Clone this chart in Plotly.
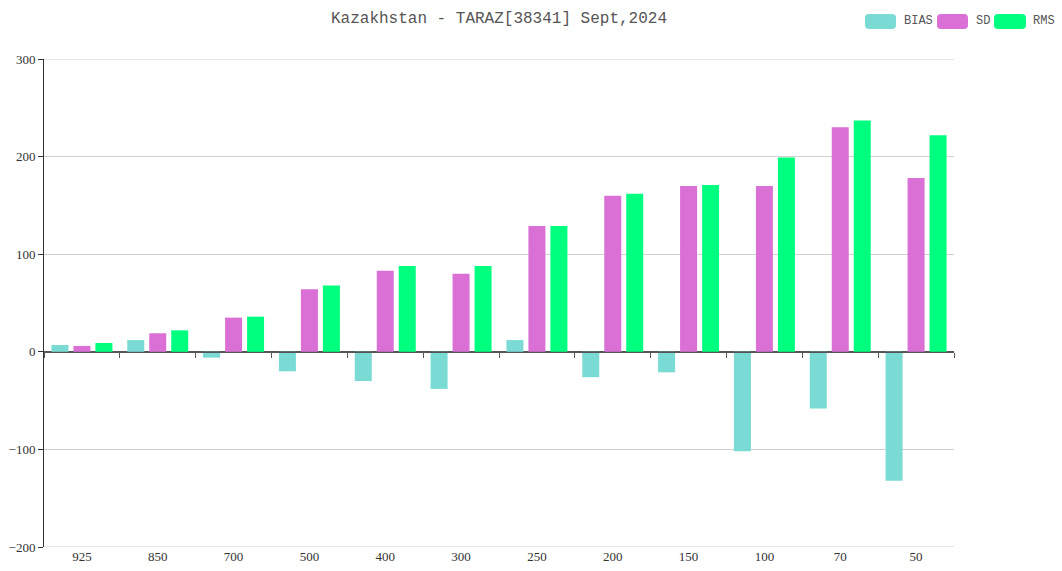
import plotly.graph_objects as go

levels = ["925", "850", "700", "500", "400", "300", "250", "200", "150", "100", "70", "50"]
bias = [7, 12, -6, -20, -30, -38, 12, -26, -21, -102, -58, -132]
sd = [6, 19, 35, 64, 83, 80, 129, 160, 170, 170, 230, 178]
rms = [9, 22, 36, 68, 88, 88, 129, 162, 171, 199, 237, 222]

series_names = ["BIAS", "SD", "RMS"]
series_colors = ["#79dbd4", "#da70d6", "#00ff7f"]
y_ticks = [-200, -100, 0, 100, 200, 300]
y_range = [-200, 300]

W, H = 1062, 571
L, R, T, B = 44, 954, 59, 547

def px(x):
    return (x - L) / (R - L)

def py(y):
    return (B - y) / (B - T)

fig = go.Figure()
for name, vals, col in zip(series_names, [bias, sd, rms], series_colors):
    fig.add_trace(go.Bar(x=levels, y=vals, name=name, marker=dict(color=col, line=dict(width=0)),
                         showlegend=False))

# invisible helper trace for the zero-line axis with boundary ticks
fig.add_trace(go.Scatter(x=levels, y=[0] * len(levels), xaxis="x2", mode="markers",
                         marker=dict(opacity=0, size=1), hoverinfo="skip", showlegend=False))

def rrect(x0, y0, x1, y1, r):
    pts = [
        f"M {px(x0 + r)},{py(y0)}",
        f"L {px(x1 - r)},{py(y0)}",
        f"Q {px(x1)},{py(y0)} {px(x1)},{py(y0 + r)}",
        f"L {px(x1)},{py(y1 - r)}",
        f"Q {px(x1)},{py(y1)} {px(x1 - r)},{py(y1)}",
        f"L {px(x0 + r)},{py(y1)}",
        f"Q {px(x0)},{py(y1)} {px(x0)},{py(y1 - r)}",
        f"L {px(x0)},{py(y0 + r)}",
        f"Q {px(x0)},{py(y0)} {px(x0 + r)},{py(y0)}",
        "Z",
    ]
    return " ".join(pts)

legend_icons = [(865, 896, 902), (937, 968, 974), (994, 1026, 1031)]
shapes = []
annotations = []
for yv in (y_range[0], y_range[1]):
    shapes.append(dict(type="line", xref="paper", yref="y", x0=0, x1=1, y0=yv, y1=yv,
                       line=dict(color="#d0d0d0", width=1), layer="below"))
for (x0, x1, tx), name, col in zip(legend_icons, series_names, series_colors):
    shapes.append(dict(type="path", xref="paper", yref="paper", path=rrect(x0, 14, x1, 29, 4),
                       fillcolor=col, line=dict(width=0)))
    annotations.append(dict(text=name, xref="paper", yref="paper", x=px(tx), y=py(21.5),
                            xanchor="left", yanchor="middle", showarrow=False,
                            font=dict(family="Liberation Mono", size=12, color="#555")))

x_range = [-0.5, len(levels) - 0.5]

fig.update_layout(
    width=W, height=H,
    margin=dict(l=L, r=W - R, t=T, b=H - B, autoexpand=False),
    paper_bgcolor="white", plot_bgcolor="white",
    barmode="group", bargap=0.13, bargroupgap=0.227,
    title=dict(text="Kazakhstan - TARAZ[38341] Sept,2024", x=0.5, xref="paper", xanchor="center",
               y=1 - 17 / H, yref="container", yanchor="middle",
               font=dict(family="Liberation Mono", size=16, color="#555")),
    xaxis=dict(type="category", categoryarray=levels, range=x_range, showgrid=False, showline=False,
               ticks="", zeroline=False,
               tickfont=dict(family="Liberation Serif", size=13, color="#333"),
               automargin=False, fixedrange=True),
    xaxis2=dict(type="category", categoryarray=levels, range=x_range, overlaying="x", anchor="free",
                position=0.4, showline=True, linecolor="#555", linewidth=1, ticks="outside",
                tickson="boundaries", ticklen=5, tickcolor="#555", showticklabels=False,
                showgrid=False, zeroline=False, automargin=False, fixedrange=True),
    yaxis=dict(range=y_range, tickvals=y_ticks, showgrid=True, gridcolor="#d0d0d0", gridwidth=1,
               showline=True, linecolor="#333", linewidth=1, ticks="outside", ticklen=5,
               tickcolor="#333", zeroline=True, zerolinecolor="#555", zerolinewidth=1,
               tickfont=dict(family="Liberation Serif", size=13, color="#333"), automargin=False,
               fixedrange=True),
    shapes=shapes,
    annotations=annotations,
)

fig.write_html("out.html", config={"displayModeBar": False})

with open("out.html", "r", encoding="utf-8") as f:
    html = f.read()
html = html.replace("<body>", '<body style="margin:0;padding:0;">', 1)
with open("out.html", "w", encoding="utf-8") as f:
    f.write(html)
